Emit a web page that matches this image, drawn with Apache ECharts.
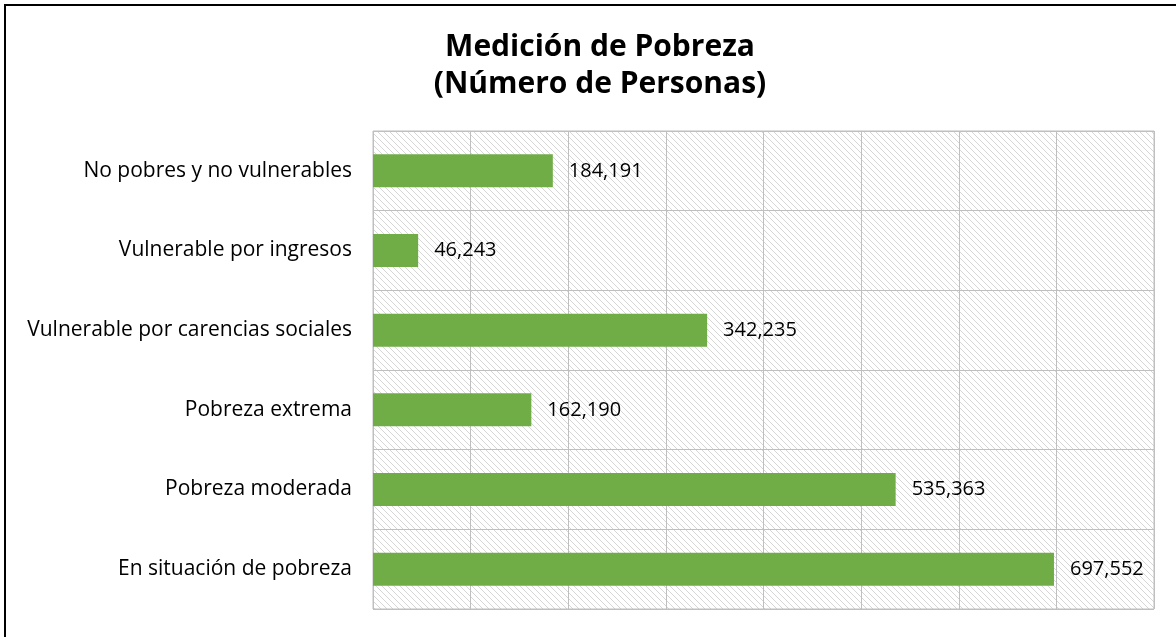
<!DOCTYPE html>
<html>
<head>
<meta charset="utf-8">
<script src="https://cdn.jsdelivr.net/npm/echarts@6/dist/echarts.min.js"></script>
<style>
  html, body { margin: 0; padding: 0; background: #fff; }
  #chart { width: 1176px; height: 637px; }
</style>
</head>
<body>
<div id="chart"></div>
<script>
var categories = [
  "En situación de pobreza",
  "Pobreza moderada",
  "Pobreza extrema",
  "Vulnerable por carencias sociales",
  "Vulnerable por ingresos",
  "No pobres y no vulnerables"
];
var personas = [697552, 535363, 162190, 342235, 46243, 184191];

// diagonal hatch for the plot background
function makeHatch() {
  var c = document.createElement("canvas");
  c.width = 6;
  c.height = 6;
  var ctx = c.getContext("2d");
  ctx.fillStyle = "#ffffff";
  ctx.fillRect(0, 0, 6, 6);
  ctx.strokeStyle = "#d6d6d6";
  ctx.lineWidth = 1;
  ctx.beginPath();
  ctx.moveTo(-1, -1);
  ctx.lineTo(7, 7);
  ctx.moveTo(-1, 5);
  ctx.lineTo(1, 7);
  ctx.moveTo(5, -1);
  ctx.lineTo(7, 1);
  ctx.stroke();
  return c;
}

var chart = echarts.init(document.getElementById("chart"));
var font = "'Open Sans', Lato, sans-serif";

chart.setOption({
  animation: false,
  title: {
    text: "Medición de Pobreza\n(Número de Personas)",
    left: 595,
    top: 24,
    textAlign: "center",
    textStyle: {
      fontFamily: font,
      fontWeight: "bold",
      fontSize: 30,
      lineHeight: 37,
      color: "#000"
    }
  },
  grid: {
    left: 373,
    right: 22,
    top: 131,
    bottom: 28,
    show: true,
    backgroundColor: { image: makeHatch(), repeat: "repeat" },
    borderColor: "#bfbfbf",
    borderWidth: 1
  },
  xAxis: {
    type: "value",
    min: 0,
    max: 800000,
    interval: 100000,
    axisLabel: { show: false },
    axisLine: { show: false },
    axisTick: { show: false },
    splitLine: { show: true, lineStyle: { color: "#bfbfbf", width: 1 } }
  },
  yAxis: {
    type: "category",
    data: categories,
    axisLine: { show: false },
    axisTick: { show: false },
    axisLabel: {
      margin: 21,
      fontFamily: font,
      fontSize: 21,
      color: "#000"
    },
    splitLine: { show: true, lineStyle: { color: "#bfbfbf", width: 1 } }
  },
  series: [{
    type: "bar",
    data: personas,
    barWidth: 33,
    itemStyle: { color: "#70ad47" },
    label: {
      show: true,
      position: "right",
      distance: 16,
      fontFamily: font,
      fontSize: 20,
      color: "#000",
      formatter: function (p) {
        return p.value.toLocaleString("en-US");
      }
    }
  }],
  graphic: [{
    type: "polyline",
    shape: { points: [[5, 640], [5, 5], [1180, 5]] },
    style: { stroke: "#000", lineWidth: 2, fill: null },
    z: 10
  }]
});
</script>
</body>
</html>
